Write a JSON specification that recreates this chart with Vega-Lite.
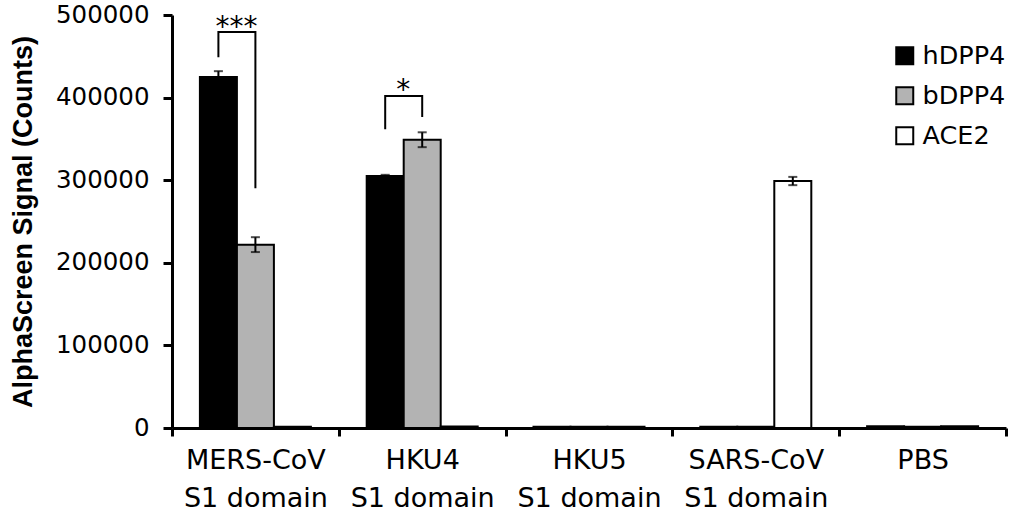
{
  "$schema": "https://vega.github.io/schema/vega-lite/v6.json",
  "width": 834,
  "height": 413,
  "autosize": {"type": "none"},
  "padding": {"left": 172, "top": 15, "right": 10, "bottom": 90},
  "background": "white",
  "config": {"view": {"stroke": null}, "font": "Liberation Sans"},
  "datasets": {
    "bars": [
      {"cat": "MERS-CoV S1 domain", "series": "hDPP4", "value": 425000, "lo": 418000, "hi": 432000},
      {"cat": "MERS-CoV S1 domain", "series": "bDPP4", "value": 222000, "lo": 213000, "hi": 231000},
      {"cat": "MERS-CoV S1 domain", "series": "ACE2", "value": 1500},
      {"cat": "HKU4 S1 domain", "series": "hDPP4", "value": 305000, "lo": 303500, "hi": 306500},
      {"cat": "HKU4 S1 domain", "series": "bDPP4", "value": 349000, "lo": 340000, "hi": 358000},
      {"cat": "HKU4 S1 domain", "series": "ACE2", "value": 1800},
      {"cat": "HKU5 S1 domain", "series": "hDPP4", "value": 1500},
      {"cat": "HKU5 S1 domain", "series": "bDPP4", "value": 1500},
      {"cat": "HKU5 S1 domain", "series": "ACE2", "value": 1500},
      {"cat": "SARS-CoV S1 domain", "series": "hDPP4", "value": 1500},
      {"cat": "SARS-CoV S1 domain", "series": "bDPP4", "value": 1500},
      {"cat": "SARS-CoV S1 domain", "series": "ACE2", "value": 299000, "lo": 294000, "hi": 304000},
      {"cat": "PBS", "series": "hDPP4", "value": 2000},
      {"cat": "PBS", "series": "bDPP4", "value": 1500},
      {"cat": "PBS", "series": "ACE2", "value": 2000}
    ],
    "brackets": [
      {"id": "m", "cat": "MERS-CoV S1 domain", "series": "hDPP4", "v": 449000, "ord": 1},
      {"id": "m", "cat": "MERS-CoV S1 domain", "series": "hDPP4", "v": 479400, "ord": 2},
      {"id": "m", "cat": "MERS-CoV S1 domain", "series": "bDPP4", "v": 479400, "ord": 3},
      {"id": "m", "cat": "MERS-CoV S1 domain", "series": "bDPP4", "v": 290300, "ord": 4},
      {"id": "h", "cat": "HKU4 S1 domain", "series": "hDPP4", "v": 361800, "ord": 1},
      {"id": "h", "cat": "HKU4 S1 domain", "series": "hDPP4", "v": 401800, "ord": 2},
      {"id": "h", "cat": "HKU4 S1 domain", "series": "bDPP4", "v": 401800, "ord": 3},
      {"id": "h", "cat": "HKU4 S1 domain", "series": "bDPP4", "v": 376400, "ord": 4}
    ],
    "stars": [
      {"cat": "MERS-CoV S1 domain", "series": "hDPP4", "v": 474500, "label": "***"},
      {"cat": "HKU4 S1 domain", "series": "hDPP4", "v": 398000, "label": "*"}
    ]
  },
  "layer": [
    {
      "data": {"name": "bars"},
      "mark": {"type": "bar", "stroke": "black", "strokeWidth": 2},
      "encoding": {
        "x": {
          "field": "cat", "type": "nominal",
          "scale": {"domain": ["MERS-CoV S1 domain", "HKU4 S1 domain", "HKU5 S1 domain", "SARS-CoV S1 domain", "PBS"], "paddingInner": 0, "paddingOuter": 0},
          "axis": {
            "title": null, "labelAngle": 0, "labelFont": "DejaVu Sans", "labelFontSize": 27, "labelColor": "black",
            "labelExpr": "split(replace(datum.label, ' S1 domain', '|S1 domain'), '|')",
            "labelLineHeight": 38, "labelPadding": 11, "tickBand": "extent", "tickSize": 8, "tickWidth": 3,
            "tickColor": "black", "domainColor": "black", "domainWidth": 3
          }
        },
        "xOffset": {"field": "series", "type": "nominal", "scale": {"domain": ["hDPP4", "bDPP4", "ACE2"], "paddingInner": 0, "paddingOuter": 0.754}},
        "y": {
          "field": "value", "type": "quantitative",
          "scale": {"domain": [0, 500000], "nice": false},
          "axis": {
            "title": "AlphaScreen Signal (Counts)", "titleFont": "Liberation Sans", "titleFontWeight": "bold", "titleFontSize": 27,
            "titleColor": "black", "titlePadding": 18, "values": [0, 100000, 200000, 300000, 400000, 500000], "format": "d",
            "labelFont": "DejaVu Sans", "labelFontSize": 24.5, "labelColor": "black", "labelPadding": 14,
            "tickSize": 9, "tickWidth": 3, "tickColor": "black", "domainColor": "black", "domainWidth": 3, "grid": false
          }
        },
        "fill": {
          "field": "series", "type": "nominal",
          "scale": {"domain": ["hDPP4", "bDPP4", "ACE2"], "range": ["#000000", "#b3b3b3", "#ffffff"]},
          "legend": {
            "orient": "none", "legendX": 720, "legendY": 28, "title": null, "symbolType": "square", "symbolSize": 289,
            "symbolStrokeColor": "black", "symbolStrokeWidth": 2, "labelFont": "DejaVu Sans", "labelFontSize": 25.5,
            "labelColor": "black", "rowPadding": 13, "labelOffset": 5
          }
        }
      }
    },
    {
      "data": {"name": "bars"},
      "transform": [{"filter": "isValid(datum.hi)"}],
      "mark": {"type": "rule", "color": "black", "strokeWidth": 2},
      "encoding": {
        "x": {"field": "cat", "type": "nominal"},
        "xOffset": {"field": "series", "type": "nominal"},
        "y": {"field": "lo", "type": "quantitative"},
        "y2": {"field": "hi"}
      }
    },
    {
      "data": {"name": "bars"},
      "transform": [{"filter": "isValid(datum.hi)"}],
      "mark": {"type": "tick", "color": "black", "thickness": 2, "size": 9},
      "encoding": {
        "x": {"field": "cat", "type": "nominal"},
        "xOffset": {"field": "series", "type": "nominal"},
        "y": {"field": "hi", "type": "quantitative"}
      }
    },
    {
      "data": {"name": "bars"},
      "transform": [{"filter": "isValid(datum.hi)"}],
      "mark": {"type": "tick", "color": "black", "thickness": 2, "size": 9},
      "encoding": {
        "x": {"field": "cat", "type": "nominal"},
        "xOffset": {"field": "series", "type": "nominal"},
        "y": {"field": "lo", "type": "quantitative"}
      }
    },
    {
      "data": {"name": "brackets"},
      "mark": {"type": "line", "color": "black", "strokeWidth": 2},
      "encoding": {
        "x": {"field": "cat", "type": "nominal"},
        "xOffset": {"field": "series", "type": "nominal"},
        "y": {"field": "v", "type": "quantitative"},
        "detail": {"field": "id"},
        "order": {"field": "ord"}
      }
    },
    {
      "data": {"name": "stars"},
      "mark": {"type": "text", "font": "DejaVu Sans", "fontSize": 28, "color": "black", "baseline": "alphabetic", "align": "center", "dx": 18},
      "encoding": {
        "x": {"field": "cat", "type": "nominal"},
        "xOffset": {"field": "series", "type": "nominal"},
        "y": {"field": "v", "type": "quantitative"},
        "text": {"field": "label"}
      }
    }
  ]
}
